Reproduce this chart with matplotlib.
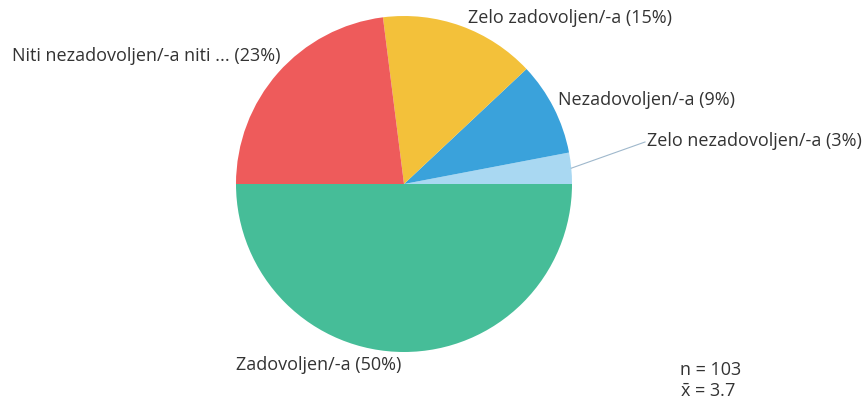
import numpy as np
import matplotlib.pyplot as plt

# answer categories and shares (%)
labels = ['Zelo nezadovoljen/-a', 'Nezadovoljen/-a', 'Zelo zadovoljen/-a',
          'Niti nezadovoljen/-a niti ...', 'Zadovoljen/-a']
shares = [3, 9, 15, 23, 50]
colors = ['#a9d8f2', '#3aa2db', '#f3c13a', '#ee5b5b', '#46bd98']
n_resp = 103
mean_val = 3.7

# label positions in pixels (x, y from top) and alignment
label_pos = [(647, 141, 'left'), (558, 100, 'left'), (468, 18, 'left'),
             (281, 56, 'right'), (236, 365, 'left')]

W, H = 865, 405
plt.rcParams['font.family'] = ['Open Sans', 'DejaVu Sans']
plt.rcParams['mathtext.fontset'] = 'custom'
plt.rcParams['mathtext.rm'] = 'Open Sans'

fig = plt.figure(figsize=(W / 100, H / 100), dpi=100)
ax = fig.add_axes([0, 0, 1, 1])

cx, cy, r = 404, H - 184, 168
wedges, _ = ax.pie(shares, colors=colors, startangle=0, counterclock=True,
                   center=(cx, cy), radius=r, frame=True,
                   wedgeprops=dict(linewidth=0))
ax.set_xlim(0, W)
ax.set_ylim(0, H)
ax.set_aspect('equal')
ax.axis('off')

txt_kw = dict(fontsize=13, color='#333333', va='center')

for i, (lab, val) in enumerate(zip(labels, shares)):
    x, y, ha = label_pos[i]
    ax.text(x, H - y, f'{lab} ({val}%)', ha=ha, **txt_kw)

# leader line for the small slice
w = wedges[0]
mid = np.deg2rad((w.theta1 + w.theta2) / 2)
ex, ey = cx + r * np.cos(mid), cy + r * np.sin(mid)
ax.plot([ex, 645], [ey, H - 142], color='#9fb8cc', lw=0.8)

ax.text(680, H - 370, f'n = {n_resp}', ha='left', **txt_kw)
ax.text(680, H - 392, r'$\bar{\mathrm{x}}$' + f' = {mean_val}', ha='left', **txt_kw)

fig.savefig('out.png', dpi=100)
